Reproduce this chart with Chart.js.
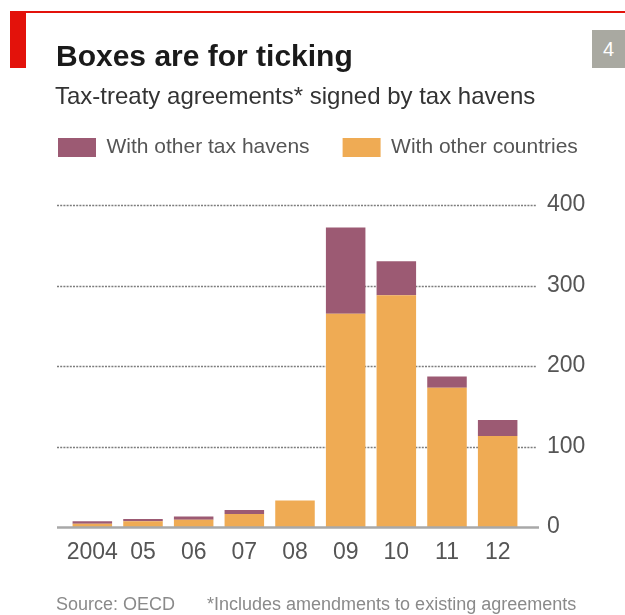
<!DOCTYPE html>
<html>
<head>
<meta charset="utf-8">
<script src="https://cdn.jsdelivr.net/npm/chart.js@4"></script>
<style>
  html, body { margin: 0; padding: 0; background: #fff; }
  body { width: 625px; height: 615px; position: relative; overflow: hidden; font-family: "Liberation Sans", Arial, sans-serif; }
  #wrap { position: absolute; left: 0; top: 0; width: 625px; height: 615px; }
  .rule { position: absolute; left: 10px; top: 11px; width: 615px; height: 2px; background: #e3120b; }
  .tab { position: absolute; left: 10px; top: 11px; width: 16px; height: 57px; background: #e3120b; }
  .num { position: absolute; left: 592px; top: 30px; width: 33px; height: 38px; background: #a9a9a1; color: #fff; font-size: 20px; line-height: 38px; text-align: center; }
  .title { position: absolute; left: 56px; top: 41px; margin: 0; font-size: 30px; line-height: 30px; font-weight: bold; color: #1a1a1a; white-space: nowrap; }
  .sub { position: absolute; left: 55px; top: 84px; font-size: 24px; line-height: 24px; color: #333; white-space: nowrap; }
  .foot { position: absolute; top: 595px; font-size: 18px; line-height: 18px; color: #8a8a8a; white-space: nowrap; }
</style>
</head>
<body>
<div id="wrap"><canvas id="chart"></canvas></div>
<div class="rule"></div>
<div class="tab"></div>
<div class="num">4</div>
<h1 class="title">Boxes are for ticking</h1>
<div class="sub">Tax-treaty agreements* signed by tax havens</div>
<div class="foot" style="left:56px">Source: OECD</div>
<div class="foot" style="left:207px">*Includes amendments to existing agreements</div>
<script>
const categories = ['2004', '05', '06', '07', '08', '09', '10', '11', '12'];
const withHavens = [3, 3, 4, 5, 0, 107, 42, 14, 20];
const withCountries = [4, 7, 9, 16, 33, 265, 288, 173, 113];
const yTicks = [0, 100, 200, 300, 400];

Chart.defaults.font.family = '"Liberation Sans", Arial, sans-serif';

// dotted gridlines run a little past the bars on both sides
const dottedGrid = {
  id: 'dottedGrid',
  beforeDatasetsDraw(chart) {
    const { ctx, chartArea, scales: { y } } = chart;
    ctx.save();
    ctx.strokeStyle = '#7d7d7d';
    ctx.lineWidth = 1.5;
    ctx.setLineDash([2, 1.2]);
    y.ticks.forEach((t) => {
      if (t.value === 0) return;
      const py = Math.round(y.getPixelForValue(t.value)) + 0.5;
      ctx.beginPath();
      ctx.moveTo(chartArea.left - 10, py);
      ctx.lineTo(chartArea.right + 14, py);
      ctx.stroke();
    });
    ctx.restore();
  },
  afterDatasetsDraw(chart) {
    const { ctx, chartArea, scales: { y } } = chart;
    const y0 = y.getPixelForValue(0);
    ctx.save();
    ctx.strokeStyle = '#a8a8a8';
    ctx.lineWidth = 2.5;
    ctx.beginPath();
    ctx.moveTo(chartArea.left - 10, y0 + 0.5);
    ctx.lineTo(chartArea.right + 16, y0 + 0.5);
    ctx.stroke();
    ctx.restore();
  }
};

new Chart(document.getElementById('chart'), {
  type: 'bar',
  data: {
    labels: categories,
    datasets: [
      {
        label: 'With other countries',
        data: withCountries,
        backgroundColor: '#efab54',
        xAxisID: 'x',
        yAxisID: 'y',
        barPercentage: 0.78,
        categoryPercentage: 1
      },
      {
        label: 'With other tax havens',
        data: withHavens,
        backgroundColor: '#9c5a73',
        xAxisID: 'x',
        yAxisID: 'y',
        barPercentage: 0.78,
        categoryPercentage: 1
      }
    ]
  },
  options: {
    responsive: true,
    maintainAspectRatio: false,
    animation: false,
    layout: { padding: { left: 25, top: 104, right: 0, bottom: 48 } },
    plugins: {
      legend: {
        position: 'top',
        align: 'start',
        reverse: true,
        labels: { boxWidth: 38, boxHeight: 19, padding: 33, color: '#555', font: { size: 21 } }
      },
      tooltip: { enabled: false }
    },
    scales: {
      x: {
        stacked: true,
        grid: { display: false, drawTicks: false },
        border: { display: false },
        ticks: { color: '#555', font: { size: 23 }, padding: 12, maxRotation: 0, autoSkip: false },
        afterFit: (s) => { s.height = 40; }
      },
      xTop: {
        type: 'category',
        labels: categories,
        position: 'top',
        grid: { display: false, drawTicks: false },
        border: { display: false },
        ticks: { display: false },
        afterFit: (s) => { s.height = 37; }
      },
      yLeft: {
        type: 'linear',
        position: 'left',
        grid: { display: false, drawTicks: false },
        border: { display: false },
        ticks: { display: false },
        afterFit: (s) => { s.width = 42; }
      },
      y: {
        stacked: true,
        position: 'right',
        min: yTicks[0],
        max: yTicks[yTicks.length - 1],
        afterBuildTicks: (s) => { s.ticks = yTicks.map((v) => ({ value: v })); },
        grid: { display: false, drawTicks: false },
        border: { display: false },
        ticks: { color: '#555', font: { size: 23 }, padding: 24 },
        afterFit: (s) => { s.width = 102; }
      }
    }
  },
  plugins: [dottedGrid]
});
</script>
</body>
</html>
